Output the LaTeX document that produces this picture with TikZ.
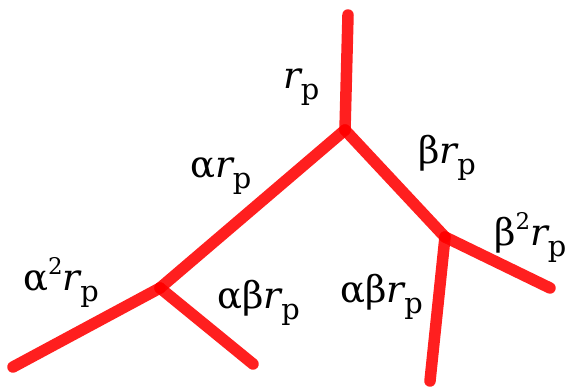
\documentclass[tikz,border=0pt]{standalone}
\usepackage{fontspec}
\setmainfont{DejaVu Serif}
\newfontfamily\lblfont{DejaVu Serif}
\usetikzlibrary{positioning}
\definecolor{branchred}{RGB}{255,0,0}
\newcommand{\rpsub}{{\itshape r}\raisebox{-0.32em}{\scalebox{0.78}{p}}}
\newcommand{\sq}{\raisebox{0.42em}{\scalebox{0.62}{2}}}

\begin{document}
\begin{tikzpicture}[x=1pt,y=-1pt,
    branch/.style={draw=branchred, draw opacity=0.88, line width=11.5pt, line cap=round},
    lbl/.style={anchor=base west, inner sep=0pt, font=\lblfont\fontsize{37}{39}\selectfont}]
\useasboundingbox (0,0) rectangle (571,388);
% junctions and tips
\coordinate (top) at (348,15);
\coordinate (root) at (345,130);
\coordinate (ja) at (160,288);
\coordinate (jb) at (445,237);
\coordinate (aa) at (13,367);
\coordinate (abl) at (253,364);
\coordinate (bb) at (550,288);
\coordinate (abr) at (430,381);
% branches
\draw[branch] (top) -- (root);
\draw[branch] (root) -- (ja);
\draw[branch] (root) -- (jb);
\draw[branch] (ja) -- (aa);
\draw[branch] (ja) -- (abl);
\draw[branch] (jb) -- (bb);
\draw[branch] (jb) -- (abr);
% labels
\node[lbl] (lr) at (283,88) {\rpsub};
\node[lbl] (la) at (190,177) {α\rpsub};
\node[lbl] (lb) at (418,163) {β\rpsub};
\node[lbl] (lbb) at (494,245) {β\sq\rpsub};
\node[lbl] (laa) at (23,290) {α\sq\rpsub};
\node[lbl] (labl) at (217,308) {αβ\rpsub};
\node[lbl] (labr) at (340,302) {αβ\rpsub};
\end{tikzpicture}
\end{document}
